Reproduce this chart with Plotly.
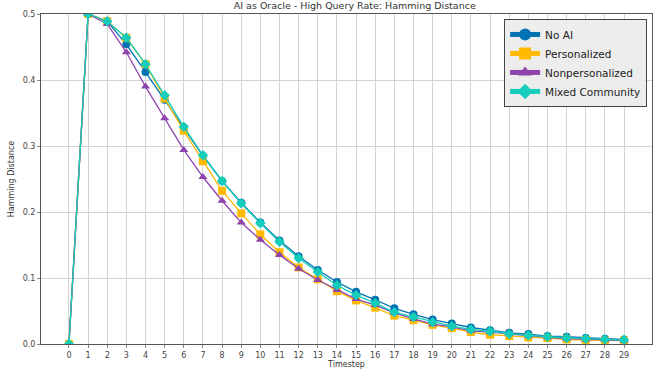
import plotly.graph_objects as go

timesteps = list(range(30))
tick_labels = [str(t) for t in timesteps]

no_ai = [0.0, 0.5, 0.489, 0.454, 0.412, 0.370, 0.328, 0.285, 0.247, 0.214, 0.184, 0.157,
         0.133, 0.112, 0.094, 0.079, 0.067, 0.054, 0.045, 0.037, 0.031, 0.025, 0.021,
         0.017, 0.015, 0.012, 0.011, 0.009, 0.008, 0.007]
personalized = [0.0, 0.5, 0.489, 0.464, 0.424, 0.372, 0.323, 0.277, 0.232, 0.198, 0.166, 0.139,
                0.116, 0.098, 0.080, 0.066, 0.055, 0.043, 0.036, 0.029, 0.024, 0.018, 0.014,
                0.012, 0.010, 0.009, 0.007, 0.006, 0.005, 0.005]
nonpersonalized = [0.0, 0.5, 0.485, 0.442, 0.390, 0.342, 0.294, 0.253, 0.217, 0.184, 0.158, 0.135,
                   0.114, 0.097, 0.082, 0.068, 0.059, 0.047, 0.038, 0.030, 0.026, 0.020, 0.018,
                   0.015, 0.012, 0.010, 0.008, 0.007, 0.006, 0.005]
mixed = [0.0, 0.5, 0.489, 0.464, 0.424, 0.377, 0.329, 0.286, 0.247, 0.213, 0.183, 0.155,
         0.130, 0.109, 0.089, 0.074, 0.062, 0.048, 0.041, 0.033, 0.027, 0.022, 0.019,
         0.015, 0.013, 0.011, 0.009, 0.008, 0.007, 0.006]

series = [
    ("No AI", no_ai, "#0173B2", "circle"),
    ("Personalized", personalized, "#FFBA00", "square"),
    ("Nonpersonalized", nonpersonalized, "#8E44AD", "triangle-up"),
    ("Mixed Community", mixed, "#14CDBA", "diamond"),
]

fig = go.Figure()
for name, vals, color, sym in series:
    fig.add_trace(go.Scatter(
        x=timesteps, y=vals, name=name, mode="lines+markers",
        line=dict(color=color, width=1.3),
        marker=dict(symbol=sym, size=8, color=color, line=dict(width=0)),
    ))

font = "DejaVu Sans, Liberation Sans, sans-serif"
fig.update_layout(
    width=657, height=374,
    margin=dict(l=41, r=5, t=14, b=30, autoexpand=False),
    paper_bgcolor="white", plot_bgcolor="white",
    font=dict(family=font, size=8, color="#333"),
    title=dict(text="AI as Oracle - High Query Rate: Hamming Distance",
               x=0.54, xanchor="center", y=0.993, yanchor="top",
               font=dict(family=font, size=9.5, color="#333")),
    showlegend=True,
    legend=dict(x=0.992, y=0.985, xanchor="right", yanchor="top",
                bgcolor="rgba(236,236,236,0.95)", bordercolor="#444", borderwidth=1,
                font=dict(family=font, size=10.5, color="#222"),
                tracegroupgap=0, itemsizing="constant", itemwidth=30),
)
fig.update_xaxes(
    range=[-1.46, 30.46], tickmode="array", tickvals=timesteps, ticktext=tick_labels,
    showgrid=True, gridcolor="#d4d4d4", gridwidth=1,
    showline=True, linecolor="#555", linewidth=1, mirror=True,
    ticks="outside", ticklen=3, tickcolor="#888",
    tickfont=dict(size=8, color="#444"),
    title=dict(text="Timestep", font=dict(size=8, color="#333"), standoff=1),
    zeroline=False, automargin=False,
)
fig.update_yaxes(
    range=[0, 0.5], tickvals=[0, 0.1, 0.2, 0.3, 0.4, 0.5],
    ticktext=["0.0", "0.1", "0.2", "0.3", "0.4", "0.5"],
    showgrid=True, gridcolor="#d4d4d4", gridwidth=1,
    showline=True, linecolor="#555", linewidth=1, mirror=True,
    ticks="outside", ticklen=3, tickcolor="#888",
    tickfont=dict(size=8, color="#444"),
    title=dict(text="Hamming Distance", font=dict(size=8, color="#333"), standoff=6),
    zeroline=False, automargin=False,
)

fig.write_html("out.html", config={"displayModeBar": False},
               post_script="document.body.style.margin='0';document.body.style.padding='0';")
